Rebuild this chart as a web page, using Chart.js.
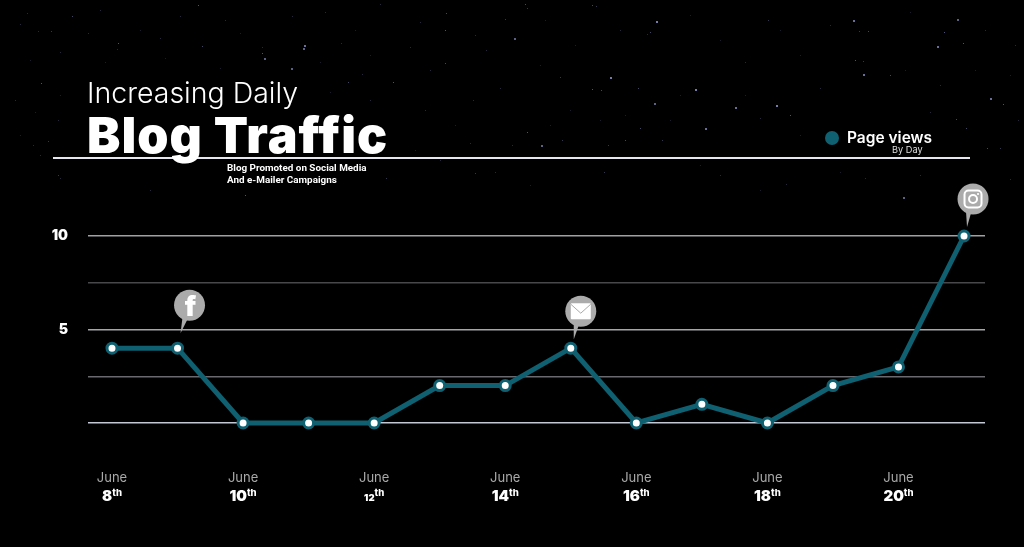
<!DOCTYPE html>
<html>
<head>
<meta charset="utf-8">
<title>Blog Traffic</title>
<script src="https://cdn.jsdelivr.net/npm/chart.js@4/dist/chart.umd.min.js"></script>
<style>
  html, body { margin: 0; padding: 0; background: #000; overflow: hidden; }
  #wrap { position: relative; width: 1024px; height: 547px; }
  #chart { position: absolute; left: 0; top: 0; }
  .txt { position: absolute; color: #fff; white-space: nowrap; }
  #t1 { left: 87px; top: 75px; font: 300 28.5px Inter; }
  #t2 { left: 87px; top: 105px; font: 900 50px Inter; letter-spacing: 1px; }
  #t3 { left: 227px; top: 162px; font: 700 9.9px/12px Roboto; }
  #rule { position: absolute; left: 53px; top: 157px; width: 917px; height: 2px; background: #e6e6f0; }
  #dot { position: absolute; left: 825px; top: 131px; width: 14px; height: 14px; border-radius: 50%; }
  #lg { left: 847px; top: 128px; font: 600 15.5px Inter; }
  #lg2 { left: 892px; top: 144px; font: 400 9.2px Inter; color: #ddd; }
</style>
</head>
<body>
<div id="wrap">
  <canvas id="chart" width="1024" height="547"></canvas>
  <div id="rule"></div>
  <div class="txt" id="t1">Increasing Daily</div>
  <div class="txt" id="t2">Blog Traffic</div>
  <div class="txt" id="t3">Blog Promoted on Social Media<br>And e-Mailer Campaigns</div>
  <div id="dot"></div>
  <div class="txt" id="lg"></div>
  <div class="txt" id="lg2">By Day</div>
</div>
<script>
let seriesName = 'Page views';
let days = [0, 1, 2, 3, 4, 5, 6, 7, 8, 9, 10, 11, 12, 13];
let pageViews = [4, 4, 0, 0, 0, 2, 2, 4, 0, 1, 0, 2, 3, 10];
let tickDays = [0, 2, 4, 6, 8, 10, 12];
let tickMonths = ['June', 'June', 'June', 'June', 'June', 'June', 'June'];
let tickDates = ['8', '10', '12', '14', '16', '18', '20'];
let yLabels = { 10: '10', 5: '5' };

// which point each bubble hangs over
let bubbles = [
  { day: 1, icon: 'facebook', dx: 12, dy: -43, tail: -15 },
  { day: 7, icon: 'mail', dx: 10, dy: -37, tail: -9 },
  { day: 13, icon: 'instagram', dx: 9, dy: -37, tail: -9 },
];

let teal = '#0f6070';

// faint starfield
let stars = [
  [198,5,.6],[27,13,.3],[72,16,.5],[180,16,.3],[446,13,.5],[380,4,.3],[292,16,.3],[117,49,.3],
  [51,31,.4],[38,31,.3],[88,33,.3],[118,43,.6],[202,46,.5],[262,47,.3],[304,45,.8],[303,48,.7],
  [262,53,.6],[264,58,.7],[291,68,.7],[41,83,.6],[348,82,.5],[393,82,.6],[362,74,.3],[445,63,.5],
  [505,19,.4],[445,30,.6],[341,43,.3],[410,47,.3],[486,50,.3],[500,88,.3],[473,100,.3],[58,120,.3],
  [48,141,.4],[33,145,.3],[470,143,.3],[475,173,.4],[58,175,.4],[245,195,.6],[386,178,.4],
  [514,38,.7],[525,4,.5],[527,8,.4],[592,5,.5],[596,6,.4],[656,21,.9],[650,32,.5],[647,34,.3],
  [610,77,.9],[592,89,.6],[601,90,.5],[638,88,.5],[695,89,.9],[654,103,.7],[560,77,.4],[768,20,.4],
  [853,20,.8],[957,19,.7],[944,32,.6],[868,31,.5],[859,31,.4],[937,46,.8],[963,43,.6],[855,60,.6],
  [863,61,.4],[863,74,.8],[890,75,.5],[776,105,.9],[735,107,.8],[790,115,.6],[990,98,.8],[1003,104,.6],
  [956,119,.5],[966,128,.5],[705,128,.8],[640,128,.5],[527,132,.6],[541,145,.7],[512,145,.3],[562,140,.4],
  [662,140,.4],[625,140,.5],[608,145,.4],[875,135,.5],[1000,148,.4],[987,148,.5],[980,195,.4],[903,197,.7],
  [865,178,.3],[604,172,.4],[720,175,.3],[1010,179,.3],[786,184,.3],[40,155,.3],[60,178,.3],[150,190,.3],
  [20,24,.3],[100,10,.3],[140,30,.2],[160,38,.3],[225,20,.3],[240,33,.2],[325,12,.3],[355,30,.2],
  [420,22,.3],[475,35,.3],[30,60,.2],[60,52,.3],[105,62,.2],[165,58,.2],[220,68,.2],[320,62,.2],
  [370,55,.2],[430,70,.3],[15,100,.3],[35,112,.2],[60,95,.2],[330,92,.2],[370,100,.3],[425,110,.3],
  [455,125,.2],[20,135,.2],[415,150,.2],[440,160,.3],[495,172,.3],[545,20,.2],[575,45,.2],[620,30,.3],
  [690,15,.2],[720,40,.2],[745,62,.3],[780,30,.2],[800,55,.2],[830,25,.3],[910,12,.2],[985,30,.3],
  [1015,45,.3],[540,65,.2],[570,110,.2],[625,115,.2],[680,95,.2],[745,95,.2],[820,88,.3],[905,70,.2],
  [940,85,.3],[975,70,.2],[1010,75,.2],[550,125,.2],[600,120,.2],[670,120,.2],[760,118,.3],[800,135,.2],
  [930,112,.3],[1018,120,.3],[700,165,.2],[760,190,.2],[840,172,.2],[920,175,.3],[530,185,.2]
];

document.getElementById('dot').style.background = teal;
document.getElementById('lg').textContent = seriesName;

function drawIcon(ctx, icon, x, y) {
  ctx.save();
  ctx.fillStyle = '#fff';
  ctx.strokeStyle = '#fff';
  if (icon == 'facebook') {
    ctx.font = '900 27px Inter';
    ctx.textAlign = 'center';
    ctx.textBaseline = 'middle';
    ctx.fillText('f', x + 1, y + 3);
  } else if (icon == 'mail') {
    ctx.beginPath();
    ctx.roundRect(x - 10, y - 8, 20, 16, 1);
    ctx.fill();
    ctx.strokeStyle = '#aaa';
    ctx.lineWidth = 1;
    ctx.beginPath();
    ctx.moveTo(x - 10, y - 7);
    ctx.lineTo(x, y + 2);
    ctx.lineTo(x + 10, y - 7);
    ctx.stroke();
  } else {
    ctx.lineWidth = 2;
    ctx.beginPath();
    ctx.roundRect(x - 8.5, y - 8.5, 17, 17, 4);
    ctx.stroke();
    ctx.beginPath();
    ctx.arc(x, y, 4, 0, Math.PI * 2);
    ctx.stroke();
    ctx.beginPath();
    ctx.arc(x + 5, y - 5, 1.1, 0, Math.PI * 2);
    ctx.fill();
  }
  ctx.restore();
}

let starPlugin = {
  id: 'starfield',
  beforeDraw(chart) {
    let ctx = chart.ctx;
    ctx.save();
    ctx.fillStyle = '#000';
    ctx.fillRect(0, 0, chart.width, chart.height);
    stars.forEach(s => {
      ctx.fillStyle = 'rgba(175, 185, 255, ' + (s[2] * 0.75) + ')';
      ctx.fillRect(s[0], s[1], s[2] > .6 ? 2 : 1, s[2] > .6 ? 2 : 1);
    });
    ctx.restore();
  },
};

let datePlugin = {
  id: 'dateLabels',
  afterDraw(chart) {
    let ctx = chart.ctx;
    let xScale = chart.scales.x;
    ctx.save();
    ctx.fillStyle = '#fff';
    ctx.textBaseline = 'alphabetic';
    tickDays.forEach((d, i) => {
      let x = xScale.getPixelForValue(d);
      let size = tickDates[i] == '12' ? 9.5 : 15;
      ctx.font = '900 ' + size + 'px Inter';
      let w = ctx.measureText(tickDates[i]).width;
      ctx.font = '800 9.5px Inter';
      let w2 = ctx.measureText('th').width;
      let left = x - (w + w2) / 2;
      ctx.font = '900 ' + size + 'px Inter';
      ctx.textAlign = 'left';
      ctx.fillText(tickDates[i], left, 501);
      ctx.font = '800 9.5px Inter';
      ctx.fillText('th', left + w, 496);
    });
    ctx.restore();
  },
};

let bubblePlugin = {
  id: 'bubbles',
  afterDatasetsDraw(chart) {
    let ctx = chart.ctx;
    let pts = chart.getDatasetMeta(0).data;
    bubbles.forEach(b => {
      let p = pts[b.day];
      let cx = p.x + b.dx;
      let cy = p.y + b.dy;
      ctx.save();
      ctx.fillStyle = '#ababab';
      ctx.beginPath();
      ctx.arc(cx, cy, 15.5, 0, Math.PI * 2);
      ctx.fill();
      ctx.beginPath();
      ctx.moveTo(cx - 7, cy + 12);
      ctx.lineTo(p.x + 3, p.y + b.tail);
      ctx.lineTo(cx - 2, cy + 14);
      ctx.closePath();
      ctx.fill();
      ctx.restore();
      drawIcon(ctx, b.icon, cx, cy);
    });
  },
};

let gridColor = ctx => {
  let v = ctx.tick.value;
  if (v == 0) return '#c4c8d4';
  if (v == 2.5) return '#6a6a6e';
  if (v == 5) return '#a5a5ab';
  if (v == 7.5) return '#48484a';
  return '#a0a0a6';
};

new Chart(document.getElementById('chart'), {
  type: 'line',
  data: {
    datasets: [{
      label: seriesName,
      data: days.map((d, i) => ({ x: d, y: pageViews[i] })),
      borderColor: teal,
      borderWidth: 5,
      tension: 0,
      clip: false,
      pointBackgroundColor: '#fff',
      pointBorderColor: teal,
      pointBorderWidth: 3,
      pointRadius: 5,
    }],
  },
  options: {
    responsive: false,
    animation: false,
    layout: { padding: { left: 0, right: 39, top: 236, bottom: 0 }, autoPadding: false },
    plugins: { legend: { display: false }, tooltip: { enabled: false } },
    scales: {
      x: {
        type: 'linear',
        min: -0.366,
        max: 13.32,
        afterBuildTicks: scale => { scale.ticks = tickDays.map(d => ({ value: d })); },
        afterFit: scale => { scale.height = 124; },
        grid: { display: false },
        border: { display: false },
        ticks: {
          padding: 39,
          maxRotation: 0,
          autoSkip: false,
          color: '#a9a9a9',
          font: { family: 'Inter', size: 13 },
          callback: v => tickMonths[tickDays.indexOf(v)],
        },
      },
      y: {
        min: 0,
        max: 10,
        afterFit: scale => { scale.width = 88; },
        grid: { color: gridColor, lineWidth: 1.5, drawTicks: false },
        border: { display: false },
        ticks: {
          stepSize: 2.5,
          padding: 20,
          color: '#fff',
          font: { family: 'Inter', size: 14, weight: '900' },
          callback: v => yLabels[v] || '',
        },
      },
    },
  },
  plugins: [starPlugin, bubblePlugin, datePlugin],
});
</script>
</body>
</html>
